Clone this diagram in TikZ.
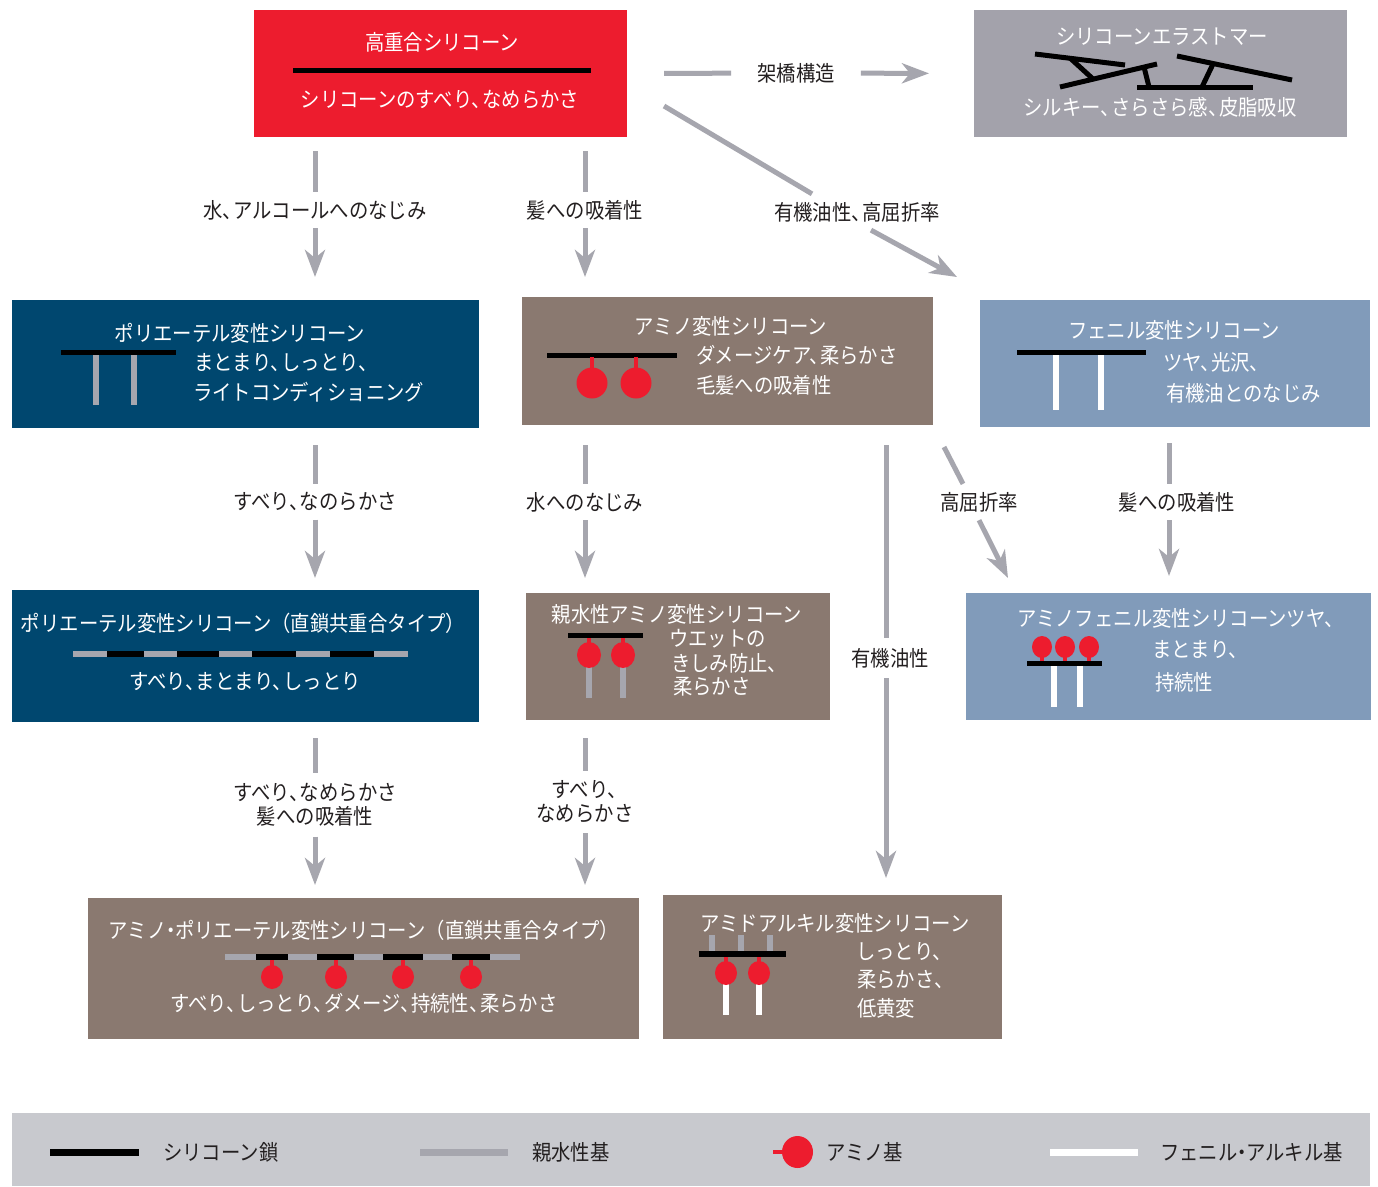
\documentclass[tikz,border=0pt]{standalone}
\usepackage{fontspec}
\setmainfont{Noto Sans CJK JP}[FakeStretch=0.9]
\usepackage{xcolor}
\usetikzlibrary{arrows.meta, positioning, calc}

\definecolor{hsred}{RGB}{237,28,46}
\definecolor{peblue}{RGB}{0,71,111}
\definecolor{amgray}{RGB}{138,121,112}
\definecolor{phblue}{RGB}{129,155,186}
\definecolor{elgray}{RGB}{163,162,171}
\definecolor{flowgray}{RGB}{166,166,174}
\definecolor{keygray}{RGB}{200,201,206}
\definecolor{ink}{RGB}{35,31,32}
\newcommand{\txtsize}{\fontsize{21.5}{24}\selectfont}
\newcommand{\tn}{、\kern-.4em\relax}
\newcommand{\nk}{\kern-.25em・\kern-.25em\relax}

\begin{document}
\begin{tikzpicture}[x=1pt, y=-1pt,
    panel/.style={inner sep=0pt, outer sep=0pt, anchor=north west},
    wtxt/.style={text=white, font=\txtsize, inner sep=0pt},
    lbl/.style={text=ink, font=\txtsize, inner xsep=0pt, inner ysep=8pt, align=center},
    seg/.style={draw=flowgray, line width=5pt},
    flow/.style={seg, -{Stealth[length=27pt, width=20pt, inset=8pt]}},
    chain/.style={draw=black, line width=5pt},
    hydro/.style={draw=flowgray, line width=6pt},
    alkyl/.style={draw=white, line width=6pt},
    stem/.style={draw=hsred, line width=4pt}]
  \useasboundingbox (0,0) rectangle (1378,1186);
  \fill[white] (0,0) rectangle (1378,1186);

  % boxes
  \node[panel, fill=hsred, minimum width=373pt, minimum height=127pt] (hs) at (254,10) {};
  \node[panel, fill=elgray, minimum width=373pt, minimum height=127pt] (el) at (974,10) {};
  \node[panel, fill=peblue, minimum width=467pt, minimum height=128pt] (pe) at (12,300) {};
  \node[panel, fill=amgray, minimum width=411pt, minimum height=128pt] (am) at (522,297) {};
  \node[panel, fill=phblue, minimum width=390pt, minimum height=127pt] (ph) at (980,300) {};
  \node[panel, fill=peblue, minimum width=467pt, minimum height=132pt] (pl) at (12,590) {};
  \node[panel, fill=amgray, minimum width=304pt, minimum height=127pt] (ha) at (526,593) {};
  \node[panel, fill=phblue, minimum width=405pt, minimum height=127pt] (ap) at (966,593) {};
  \node[panel, fill=amgray, minimum width=551pt, minimum height=141pt] (apl) at (88,898) {};
  \node[panel, fill=amgray, minimum width=339pt, minimum height=144pt] (ad) at (663,895) {};
  \node[panel, fill=keygray, minimum width=1358pt, minimum height=73pt] (key) at (12,1113) {};

  % texts in the boxes
  \node[wtxt] (hs-t) at (442,42) {高重合シリコーン};
  \node[wtxt] (hs-d) at (440,100) {シリコーンのすべり\tn なめらかさ};
  \node[wtxt] (el-t) at (1162,37) {シリコーンエラストマー};
  \node[wtxt] (el-d) at (1160,107) {シルキー\tn さらさら感\tn 皮脂吸収};
  \node[wtxt] (pe-t) at (240,333) {ポリエーテル変性シリコーン};
  \node[wtxt, anchor=west] (pe-d1) at (194,363) {まとまり\tn しっとり\tn};
  \node[wtxt, anchor=west] (pe-d2) at (193,392) {ライトコンディショニング};
  \node[wtxt] (am-t) at (731,326) {アミノ変性シリコーン};
  \node[wtxt, anchor=west] (am-d1) at (696,355) {ダメージケア\tn 柔らかさ};
  \node[wtxt, anchor=west] (am-d2) at (696,385) {毛髪への吸着性};
  \node[wtxt] (ph-t) at (1174,330) {フェニル変性シリコーン};
  \node[wtxt, anchor=west] (ph-d1) at (1163,362) {ツヤ\tn 光沢\tn};
  \node[wtxt, anchor=west] (ph-d2) at (1166,393) {有機油とのなじみ};
  \node[wtxt] (pl-t) at (243,623) {ポリエーテル変性シリコーン（直鎖共重合タイプ）};
  \node[wtxt] (pl-d) at (245,682) {すべり\tn まとまり\tn しっとり};
  \node[wtxt] (ha-t) at (677,614) {親水性アミノ変性シリコーン};
  \node[wtxt, anchor=west] (ha-d1) at (669,639) {ウエットの};
  \node[wtxt, anchor=west] (ha-d2) at (671,663) {きしみ防止\tn};
  \node[wtxt, anchor=west] (ha-d3) at (673,687) {柔らかさ};
  \node[wtxt] (ap-t) at (1176,618) {アミノフェニル変性シリコーンツヤ\tn};
  \node[wtxt, anchor=west] (ap-d1) at (1152,650) {まとまり\tn};
  \node[wtxt, anchor=west] (ap-d2) at (1155,682) {持続性};
  \node[wtxt] (apl-t) at (364,930) {アミノ\nk ポリエーテル変性シリコーン（直鎖共重合タイプ）};
  \node[wtxt] (apl-d) at (364,1003) {すべり\tn しっとり\tn ダメージ\tn 持続性\tn 柔らかさ};
  \node[wtxt] (ad-t) at (835,923) {アミドアルキル変性シリコーン};
  \node[wtxt, anchor=west] (ad-d1) at (856,952) {しっとり\tn};
  \node[wtxt, anchor=west] (ad-d2) at (857,980) {柔らかさ\tn};
  \node[wtxt, anchor=west] (ad-d3) at (857,1008) {低黄変};

  % molecule sketches
  \draw[chain] (293,70.5) -- (591,70.5);

  \draw[chain] (1035,54) -- (1125,65);
  \draw[chain] (1060,87) -- (1157,64);
  \draw[chain] (1070,58) -- (1093,79);
  \draw[chain] (1137,87) -- (1253,87);
  \draw[chain] (1144,67) -- (1149,87);
  \draw[chain] (1177,56) -- (1292,80);
  \draw[chain] (1213,64) -- (1202,87);

  \foreach \x in {96,134} \draw[hydro] (\x,355) -- (\x,405);
  \draw[chain] (61,352) -- (176,352);

  \draw[chain] (547,355) -- (677,355);
  \foreach \x in {592,636} {
    \draw[stem] (\x,357) -- (\x,370);
    \fill[hsred] (\x,383) circle (15.5);
  }

  \foreach \x in {1056,1101} \draw[alkyl] (\x,353) -- (\x,410);
  \draw[chain] (1017,352) -- (1146,352);

  \draw[hydro] (73,654) -- (408,654);
  \foreach \a/\b in {107/144,177/219,252/296,330/374}
    \draw[chain, line width=6pt] (\a,654) -- (\b,654);

  \foreach \x in {589,623} {
    \draw[hydro] (\x,667) -- (\x,698);
    \draw[stem] (\x,637) -- (\x,646);
    \fill[hsred] (\x,655) ellipse (12 and 13);
  }
  \draw[chain] (568,635) -- (643,635);

  \foreach \x in {1054,1080} \draw[alkyl] (\x,666) -- (\x,707);
  \foreach \x in {1042,1065,1089} {
    \draw[stem] (\x,654) -- (\x,662);
    \fill[hsred] (\x,647) ellipse (10 and 11);
  }
  \draw[chain] (1027,663.5) -- (1102,663.5);

  \draw[hydro] (225,957) -- (520,957);
  \foreach \a/\b in {256/288,317/354,383/423,452/490}
    \draw[chain, line width=6pt] (\a,957) -- (\b,957);
  \foreach \x in {272,336,403,471} {
    \draw[stem] (\x,960) -- (\x,968);
    \fill[hsred] (\x,977) ellipse (11 and 12);
  }

  \foreach \x in {712,741,770} \draw[hydro] (\x,935) -- (\x,951);
  \foreach \x in {726,759} {
    \draw[alkyl] (\x,984) -- (\x,1015);
    \draw[stem] (\x,957) -- (\x,966);
    \fill[hsred] (\x,973) ellipse (11 and 12);
  }
  \draw[chain, line width=6pt] (699,954) -- (786,954);

  % arrow labels
  \node[lbl, inner xsep=26pt, inner ysep=0pt] (l0) at (796,73) {架橋構造};
  \node[lbl] (l1) at (315,210) {水\tn アルコールへのなじみ};
  \node[lbl] (l2) at (585,210) {髪への吸着性};
  \node[lbl] (l3) at (857,212) {有機油性\tn 高屈折率};
  \node[lbl] (l4) at (315,502) {すべり\tn なのらかさ};
  \node[lbl] (l5) at (585,502) {水へのなじみ};
  \node[lbl] (l6) at (979,502) {高屈折率};
  \node[lbl] (l7) at (1177,502) {髪への吸着性};
  \node[lbl, inner ysep=10pt] (l8) at (890,658) {有機油性};
  \node[lbl, inner ysep=10pt] (l9) at (315,805) {すべり\tn なめらかさ\\髪への吸着性};
  \node[lbl, inner ysep=10pt] (l10) at (585,802) {すべり\tn\\なめらかさ};

  \coordinate (d3a) at (664,106);
  \coordinate (d3b) at (957,277);
  \coordinate (d6a) at (944,447);
  \coordinate (d6b) at (1008,578);

  % arrows
  \draw[seg, shorten <=37pt] (hs.east) -- (l0);
  \draw[flow, shorten >=45pt] (l0) -- (el.west);

  \draw[seg, shorten <=14pt] (l1 |- hs.south) -- (l1);
  \draw[flow, shorten >=23pt] (l1) -- (l1 |- pe.north);
  \draw[seg, shorten <=14pt] (l2 |- hs.south) -- (l2);
  \draw[flow, shorten >=20pt] (l2) -- (l2 |- am.north);
  \draw[seg] (d3a) -- ([xshift=-45pt]l3.north);
  \draw[flow] ([xshift=14pt]l3.south) -- (d3b);

  \draw[seg, shorten <=17pt] (l4 |- pe.south) -- (l4);
  \draw[flow, shorten >=12pt] (l4) -- (l4 |- pl.north);
  \draw[seg, shorten <=20pt] (l5 |- am.south) -- (l5);
  \draw[flow, shorten >=15pt] (l5) -- (l5 |- ha.north);
  \draw[seg] (d6a) -- ([xshift=-16pt]l6.north);
  \draw[flow] (l6.south) -- (d6b);
  \draw[seg, shorten <=16pt] ([xshift=-8pt]l7.north |- ph.south) -- ([xshift=-8pt]l7.north);
  \draw[flow, shorten >=17pt] ([xshift=-8pt]l7.south) -- ([xshift=-8pt]l7.south |- ap.north);
  \draw[seg, shorten <=20pt] ([xshift=-4pt]l8.north |- am.south) -- ([xshift=-4pt]l8.north);
  \draw[flow, shorten >=17pt] ([xshift=-4pt]l8.south) -- ([xshift=-4pt]l8.south |- ad.north);

  \draw[seg, shorten <=16pt] (l9 |- pl.south) -- (l9);
  \draw[flow, shorten >=13pt] (l9) -- (l9 |- apl.north);
  \draw[seg, shorten <=18pt] (l10 |- ha.south) -- (l10);
  \draw[flow, shorten >=13pt] (l10) -- (l10 |- apl.north);

  % legend
  \draw[chain, line width=7pt] (50,1152) -- (139,1152);
  \node[lbl, inner ysep=0pt, anchor=west] (k1) at (163,1152) {シリコーン鎖};
  \draw[hydro, line width=7pt] (420,1152) -- (508,1152);
  \node[lbl, inner ysep=0pt, anchor=west] (k2) at (532,1152) {親水性基};
  \draw[stem] (773,1152) -- (785,1152);
  \fill[hsred] (797.5,1152) ellipse (15.5 and 16);
  \node[lbl, inner ysep=0pt, anchor=west] (k3) at (826,1152) {アミノ基};
  \draw[alkyl, line width=7pt] (1050,1152) -- (1138,1152);
  \node[lbl, inner ysep=0pt, anchor=west] (k4) at (1160,1152) {フェニル\nk アルキル基};
\end{tikzpicture}
\end{document}
